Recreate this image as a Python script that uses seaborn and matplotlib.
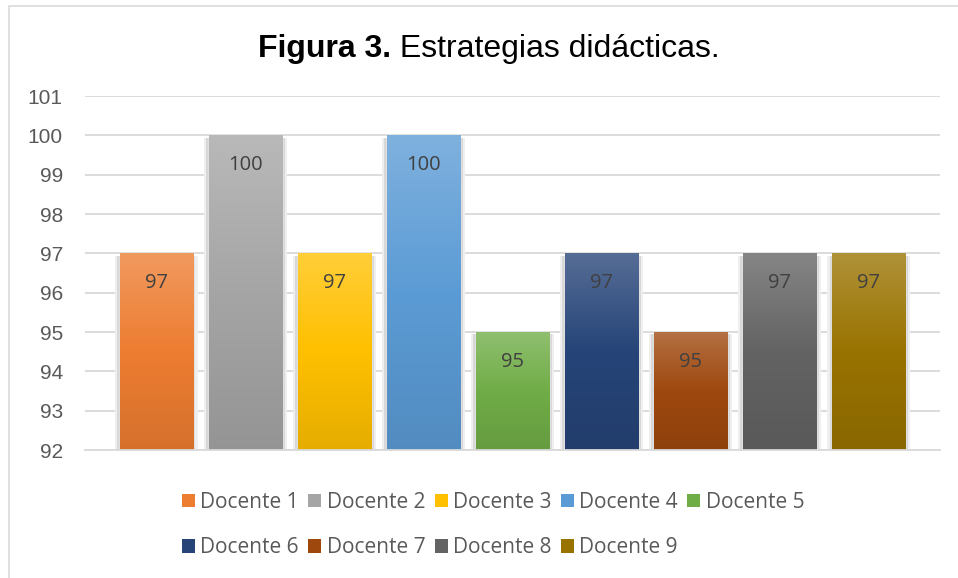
import numpy as np
import pandas as pd
import matplotlib
matplotlib.use('Agg')
import matplotlib.pyplot as plt
from matplotlib.patches import Patch, Rectangle
from matplotlib.colors import to_rgb, LinearSegmentedColormap
import seaborn as sns

# --- datos ---
docentes = ['Docente 1', 'Docente 2', 'Docente 3', 'Docente 4', 'Docente 5',
            'Docente 6', 'Docente 7', 'Docente 8', 'Docente 9']
valores = [97, 100, 97, 100, 95, 97, 95, 97, 97]
colores = ['#ED7D31', '#A5A5A5', '#FFC000', '#5B9BD5', '#70AD47',
           '#264478', '#9E480E', '#636363', '#997300']
ticks_y = [92, 93, 94, 95, 96, 97, 98, 99, 100, 101]
titulo_negrita = 'Figura 3.'
titulo_resto = ' Estrategias didácticas.'

sns.set_theme(style='white')
plt.rcParams['font.family'] = ['Open Sans', 'DejaVu Sans']

W, H = 958, 578
fig = plt.figure(figsize=(W / 100, H / 100), dpi=100)
ax = fig.add_axes([85 / W, 1 - 450 / H, (940 - 85) / W, (450 - 96) / H])

df = pd.DataFrame({'docente': docentes, 'valor': valores})
sns.barplot(data=df, x='docente', y='valor', hue='docente', palette=colores,
            width=0.82, saturation=1, legend=False, ax=ax)

ymin = ticks_y[0]
grad = np.linspace(0, 1, 256).reshape(-1, 1)
for bar, c, v in zip(list(ax.patches), colores, valores):
    base = np.array(to_rgb(c))
    top = base + (1 - base) * 0.22
    bottom = base * 0.9
    cmap = LinearSegmentedColormap.from_list('g', [bottom, base, top])
    x0, w, h = bar.get_x(), bar.get_width(), bar.get_height()
    z = bar.get_zorder()
    # sombra suave a los lados (un poco por debajo del borde superior)
    for d, col in [(0.055, '#efefef'), (0.03, '#d8d8d8')]:
        ax.add_patch(Rectangle((x0 - d, ymin), w + 2 * d, h - ymin - 0.06,
                               facecolor=col, edgecolor='none', zorder=z - 0.2))
    im = ax.imshow(grad, extent=(x0, x0 + w, ymin, h), origin='lower',
                   aspect='auto', cmap=cmap, zorder=z + 0.1)
    im.set_clip_path(bar)
    ax.text(x0 + w / 2, v - 0.76, f'{v}', ha='center', va='center',
            fontsize=14.5, color='#404040', zorder=5)

ax.set_xlim(-0.8, 8.8)
ax.set_ylim(ymin, ticks_y[-1])
ax.set_yticks(ticks_y)
ax.set_xticks([])
ax.set_xlabel('')
ax.set_ylabel('')
ax.yaxis.grid(True, color='#d9d9d9', linewidth=1.3)
ax.set_axisbelow(True)
for s in ['left', 'right', 'top']:
    ax.spines[s].set_visible(False)
ax.spines['bottom'].set_color('#d9d9d9')
ax.spines['bottom'].set_linewidth(1.3)
ax.tick_params(axis='y', length=0, pad=16, labelsize=15, labelcolor='#595959')
for t in ax.get_yticklabels():
    t.set_family('Liberation Sans')

# leyenda en dos filas, orden por filas
handles = [Patch(facecolor=c, edgecolor='none') for c in colores]
orden = [0, 5, 1, 6, 2, 7, 3, 8, 4]
leg = fig.legend([handles[i] for i in orden], [docentes[i] for i in orden],
                 ncol=5, loc='upper left', bbox_to_anchor=(182 / W, 1 - 492 / H),
                 frameon=False, fontsize=15, handlelength=0.63, handleheight=0.63,
                 handletextpad=0.25, columnspacing=0.45, labelspacing=1.17,
                 borderpad=0, borderaxespad=0)
for t in leg.get_texts():
    t.set_color('#595959')

# titulo: parte en negrita + resto normal
r = fig.canvas.get_renderer()
tb = fig.text(258 / W, 1 - 57 / H, titulo_negrita, fontsize=23, fontweight='bold',
              family='Liberation Sans', color='black', ha='left', va='baseline')
bb = tb.get_window_extent(renderer=r)
fig.text(bb.x1 / W, 1 - 57 / H, titulo_resto, fontsize=23,
         family='Liberation Sans', color='black', ha='left', va='baseline')

# borde del area del grafico
fig.add_artist(Rectangle((9 / W, -0.1), 1.2, 1.1 - 6 / H, transform=fig.transFigure,
                         fill=False, edgecolor='#d9d9d9', linewidth=1.2))

fig.savefig('out.png', dpi=100)
